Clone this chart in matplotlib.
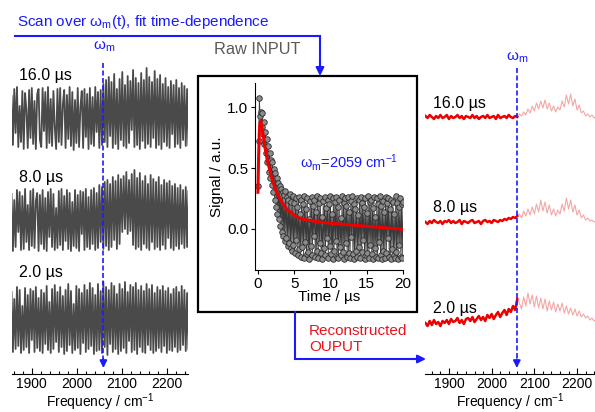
import numpy as np
import matplotlib
matplotlib.use("Agg")
import matplotlib.pyplot as plt
from matplotlib.patches import Rectangle
from matplotlib.ticker import MultipleLocator, FormatStrFormatter

plt.rcParams['font.family'] = ['Liberation Sans', 'DejaVu Sans']
plt.rcParams['mathtext.fontset'] = 'custom'
plt.rcParams['mathtext.rm'] = 'Liberation Sans'
plt.rcParams['mathtext.it'] = 'Liberation Sans:italic'

# --- data -------------------------------------------------------------
delays = ['16.0 µs', '8.0 µs', '2.0 µs']
omega_m = 2059

# raw spectra (left), 1855..2248 cm-1, step 3
freq_raw = np.arange(1855, 2249, 3)
raw_16 = [22, -27, 29, -15, 31, -29, 12, -24, 27, -31, 25, 8,
          -30, 28, -20, 30, -26, 17, -31, 24, 29, -22, -29, 30,
          -13, 26, -30, 31, -25, 19, -28, 27, -9, -31, 29, -24,
          30, -27, 14, 28, -30, 23, -21, 31, -28, 26, -32, 18,
          -25, 30, -29, 11, 27, -30, 29, -19, 24, -31, 30, -26,
          21, -28, 31, -14, 26, -30, 28, -27, 34, -24, 38, -29,
          41, -18, 36, -30, 44, -26, 29, -31, 39, -22, 46, -28,
          33, -30, 42, -25, 37, -12, 48, -29, 40, -27, 35, -31,
          45, -23, 38, -30, 50, -26, 41, -29, 36, -20, 47, -30,
          39, -27, 43, -31, 34, -24, 40, -28, 31, -30, 37, -16,
          33, -29, 38, -26, 30, -30, 35, -22, 32, -28, 29, -27]
raw_8 = [26, -31, 20, -27, 30, -12, 28, -30, 24, -29, 31, -22,
         15, -30, 29, -26, 31, -28, 19, 27, -31, 25, -24, 30,
         -29, 22, -31, 28, -17, 31, -27, 26, -30, 12, -28, 29,
         -25, 31, -30, 24, -21, 30, -29, 27, -31, 18, -26, 30,
         -28, 25, -31, 29, -14, 28, -30, 31, -27, 23, -29, 30,
         -24, 32, -30, 27, -28, 35, -22, 33, -29, 38, -26, 40,
         -30, 36, -27, 43, -20, 39, -29, 45, -24, 41, -12, 44,
         -9, 48, -14, 40, -11, 46, -25, 50, -29, 42, -27, 47,
         -30, 39, -24, 44, -28, 36, -30, 45, -22, 41, -29, 38,
         -27, 43, -30, 35, -25, 40, -29, 37, -18, 39, -28, 34,
         -30, 36, -26, 32, -29, 35, -24, 30, -28, 33, -27, 29]
raw_2 = [28, -32, 21, -29, 33, -26, 30, -33, 14, -30, 32, -27,
         25, -33, 31, -20, 29, -32, 33, -28, 22, -31, 30, -33,
         27, -24, 34, -30, 18, -33, 31, -29, 35, -22, 28, -32,
         33, -27, 24, -34, 30, -31, 36, -25, 29, -33, 16, -30,
         34, -28, 31, -34, 27, -23, 35, -32, 30, -29, 37, -26,
         32, -34, 25, -31, 36, -30, 29, -33, 38, -27, 33, -35,
         30, -24, 37, -32, 34, -29, 26, -34, 36, -31, 31, -28,
         38, -33, 28, -21, 35, -32, 33, -30, 37, -34, 30, -27,
         34, -32, 29, -33, 36, -25, 31, -30, 35, -33, 27, -31,
         33, -28, 30, -32, 34, -26, 29, -33, 32, -30, 26, -31,
         31, -27, 33, -32, 28, -30, 34, -25, 30, -31, 27, -29]

# reconstructed spectra (right), 1845..2250 cm-1, step 5
freq_rec = np.arange(1845, 2251, 5)
rec_16 = [1, -1, 2, 0, -2, 1, -1, 2, -1, 0, 2, -2, 1, -1, 0, 2, -1, 1, -2, 1,
          0, -1, 2, -1, 1, -2, 0, 1, -1, 2, -1, 0, 1, -2, 2, -1, 0, 1, -1, 2, 0, -1, 1, 0,
          3, 1, 5, 2, 8, 4, 11, 6, 14, 8, 16, 9, 17, 8, 14, 6, 11, 5, 10, 7,
          16, 10, 22, 13, 23, 11, 18, 7, 12, 4, 6, 1, 3, 0, 2, -1, 1, 0]
rec_8 = [0, -2, 1, -1, 2, 0, -1, 1, -2, 1, 0, 2, -1, 1, -1, 0, 2, -2, 1, 0,
         -1, 1, 2, -1, 0, 1, -2, 1, 2, 0, 1, -1, 2, 1, 0, 2, 1, 3, 2, 4, 3, 5, 4, 6,
         8, 4, 11, 6, 13, 7, 15, 8, 18, 10, 22, 11, 20, 9, 17, 7, 13, 6, 12, 8,
         18, 11, 24, 13, 22, 10, 17, 7, 12, 4, 7, 2, 4, 1, 2, 0, 1, 0]
rec_2 = [0, -3, 2, -2, 3, -1, 1, -3, 2, 0, 3, -1, 4, 1, 2, 5, 0, 3, -1, 4,
         5, 2, 6, 1, 4, 7, 3, 6, 2, 8, 5, 9, 4, 8, 11, 6, 10, 13, 8, 14, 11, 17, 13, 24,
         20, 14, 26, 17, 30, 19, 28, 16, 27, 15, 25, 14, 24, 12, 22, 13, 21, 11, 19, 12,
         20, 10, 17, 9, 15, 8, 14, 7, 12, 6, 9, 5, 7, 3, 5, 2, 4, 2]

# time trace at omega_m (inset), 0..20 us, step 0.1
time_us = np.linspace(0, 20, 201)
signal = [0.35, 0.72, 1.08, 0.93, 0.96, 0.84, 0.95, 0.78, 0.88, 0.70,
          0.80, 0.62, 0.74, 0.55, 0.68, 0.47, 0.62, 0.42, 0.57, 0.36,
          0.55, 0.30, 0.49, 0.24, 0.46, 0.18, 0.42, 0.12, 0.38, 0.08,
          0.35, 0.02, 0.33, -0.03, 0.30, -0.06, 0.28, -0.10, 0.31, -0.08,
          0.26, -0.14, 0.24, -0.12, 0.29, -0.16, 0.22, -0.18, 0.27, -0.13,
          0.21, -0.20, 0.25, -0.09, 0.18, -0.22, 0.26, -0.17, 0.12, -0.23,
          0.24, -0.15, 0.20, -0.24, 0.27, -0.11, 0.16, -0.21, 0.25, -0.19,
          0.08, -0.25, 0.23, -0.14, 0.26, -0.22, 0.19, -0.06, 0.24, -0.23,
          0.14, -0.18, 0.27, -0.24, 0.21, -0.12, 0.25, -0.20, 0.10, -0.25,
          0.23, -0.16, 0.26, -0.22, 0.17, -0.08, 0.24, -0.24, 0.20, -0.14,
          0.27, -0.21, 0.12, -0.25, 0.25, -0.18, 0.22, -0.10, 0.26, -0.23,
          0.18, -0.24, 0.24, -0.15, 0.09, -0.22, 0.27, -0.19, 0.21, -0.25,
          0.25, -0.12, 0.19, -0.23, 0.26, -0.20, 0.14, -0.24, 0.23, -0.07,
          0.27, -0.21, 0.20, -0.25, 0.16, -0.18, 0.25, -0.23, 0.11, -0.15,
          0.24, -0.24, 0.26, -0.19, 0.21, -0.09, 0.18, -0.25, 0.25, -0.22,
          0.13, -0.20, 0.27, -0.24, 0.22, -0.13, 0.24, -0.21, 0.17, -0.25,
          0.26, -0.16, 0.10, -0.23, 0.25, -0.24, 0.20, -0.11, 0.27, -0.22,
          0.19, -0.25, 0.23, -0.18, 0.14, -0.24, 0.26, -0.20, 0.21, -0.08,
          0.25, -0.23, 0.16, -0.25, 0.24, -0.17, 0.22, -0.22, 0.12, -0.24,
          0.27, -0.19, 0.21, -0.25, 0.18, -0.13, 0.25, -0.23, 0.20, -0.24,
          0.22]
fit_t = [0, 0.1, 0.2, 0.3, 0.4, 0.6, 0.8, 1.0, 1.3, 1.65, 2.0, 2.5, 3.0, 3.5, 4.0,
         5.0, 6.0, 8.0, 10, 12, 14, 16, 18, 20]
fit_y = [0.30, 0.60, 0.80, 0.88, 0.89, 0.82, 0.74, 0.66, 0.56, 0.48, 0.40, 0.31, 0.25, 0.20, 0.16,
         0.11, 0.08, 0.06, 0.045, 0.035, 0.025, 0.015, 0.005, -0.005]

# --- style ------------------------------------------------------------
W, H = 595, 412
blue = '#1a1aff'
red = '#ee0000'
pink = '#f5a6a6'
gray = '#4a4a4a'
fs = 11


def px_axes(fig, x0, y0, x1, y1):
    # axes from pixel box (top-left origin)
    return fig.add_axes([x0 / W, (H - y1) / H, (x1 - x0) / W, (y1 - y0) / H])


def freq_axis(ax, xlim):
    ax.set_xlim(*xlim)
    ax.set_ylim(0, 314)
    for s in ['left', 'right', 'top']:
        ax.spines[s].set_visible(False)
    ax.patch.set_alpha(0)
    ax.set_yticks([])
    ax.xaxis.set_major_locator(MultipleLocator(100))
    ax.xaxis.set_minor_locator(MultipleLocator(20))
    ax.tick_params(axis='x', which='major', direction='in', length=4, width=0.8, labelsize=10, pad=2.5)
    ax.tick_params(axis='x', which='minor', direction='in', length=2.2, width=0.8)
    ax.set_xlabel('Frequency / cm$^{-1}$', fontsize=10, labelpad=0)


def omega_line(ax, ytop):
    ax.plot([omega_m, omega_m], [ytop, 14], color=blue, lw=1.2, ls=(0, (3, 1.5)))
    ax.annotate('', xy=(omega_m, 6), xytext=(omega_m, 15),
                arrowprops=dict(arrowstyle='-|>', color=blue, lw=1.2, mutation_scale=11,
                                shrinkA=0, shrinkB=0))


fig = plt.figure(figsize=(W / 100, H / 100), dpi=100)

# overlay for frame, arrows and annotations
ov = fig.add_axes([0, 0, 1, 1])
ov.set_xlim(0, W)
ov.set_ylim(H, 0)
ov.axis('off')

# left: raw spectra
axl = px_axes(fig, 12, 60, 188, 374)
freq_axis(axl, (1856, 2247))
for vals, off in zip([raw_16, raw_8, raw_2], [256, 154, 54]):
    axl.plot(freq_raw, np.array(vals) + off, color=gray, lw=1.3)
omega_line(axl, 311)

# right: reconstructed spectra
axr = px_axes(fig, 425, 60, 595, 374)
freq_axis(axr, (1844, 2242))
split = list(freq_rec).index(2060)
for vals, off in zip([rec_16, rec_8, rec_2], [257, 152, 51]):
    v = np.array(vals) + off
    axr.plot(freq_rec[split:], v[split:], color=pink, lw=0.8)
    axr.plot(freq_rec[:split + 1], v[:split + 1], color=red, lw=1.8)
omega_line(axr, 306)

# centre: time trace
axi = px_axes(fig, 255, 83, 403, 270)
axi.plot(time_us, signal, '-o', color='#3a3a3a', lw=0.6, ms=4.0,
         mfc='#8c8c8c', mec='#2a2a2a', mew=0.6)
axi.plot(fit_t, fit_y, color=red, lw=2.2)
axi.set_xlim(-0.4, 20)
axi.set_ylim(-0.34, 1.2)
axi.spines['top'].set_visible(False)
axi.spines['right'].set_visible(False)
axi.set_xticks([0, 5, 10, 15, 20])
axi.set_yticks([0.0, 0.5, 1.0])
axi.yaxis.set_major_formatter(FormatStrFormatter('%.1f'))
axi.tick_params(direction='out', length=3, width=0.8, labelsize=fs, pad=2)
axi.set_xlabel('Time / µs', fontsize=fs, labelpad=-1)
axi.set_ylabel('Signal / a.u.', fontsize=fs, labelpad=2)
axi.patch.set_alpha(0)
axi.text(300, 162, r'$\mathrm{ω_m}$=2059 cm$^{-1}$', transform=ov.transData,
         color=blue, fontsize=10.5, va='center', ha='left')

# frame round the inset
ov.add_patch(Rectangle((198, 76), 219, 236, fill=False, ec='black', lw=1.6))

# arrows
ov.plot([15, 320, 320], [36, 36, 64], color=blue, lw=1.5, solid_joinstyle='miter')
ov.annotate('', xy=(320, 76), xytext=(320, 62),
            arrowprops=dict(arrowstyle='-|>', color=blue, lw=1.5, mutation_scale=12,
                            shrinkA=0, shrinkB=0))
ov.plot([295, 295, 414], [312, 359, 359], color=blue, lw=1.5, solid_joinstyle='miter')
ov.annotate('', xy=(426, 359), xytext=(412, 359),
            arrowprops=dict(arrowstyle='-|>', color=blue, lw=1.5, mutation_scale=12,
                            shrinkA=0, shrinkB=0))

# text
ov.text(17, 22, r'Scan over $\mathrm{ω_m}$(t), fit time-dependence', color=blue,
        fontsize=11, va='center', ha='left')
ov.text(214, 49, 'Raw INPUT', color='#5a5a5a', fontsize=11.8, va='center', ha='left')
ov.text(309, 331, 'Reconstructed', color='#e8141e', fontsize=fs, va='center', ha='left')
ov.text(309, 347, 'OUPUT', color='#e8141e', fontsize=fs, va='center', ha='left')
ov.text(104, 47, r'$\mathrm{ω_m}$', color=blue, fontsize=fs, va='center', ha='center')
ov.text(517, 58, r'$\mathrm{ω_m}$', color=blue, fontsize=fs, va='center', ha='center')
for lab, yl, yr in zip(delays, [75, 177, 272], [103, 207, 308]):
    ov.text(19, yl, lab, fontsize=11.5, va='center', ha='left')
    ov.text(433, yr, lab, fontsize=11.5, va='center', ha='left')

fig.savefig('out.png', dpi=100)
